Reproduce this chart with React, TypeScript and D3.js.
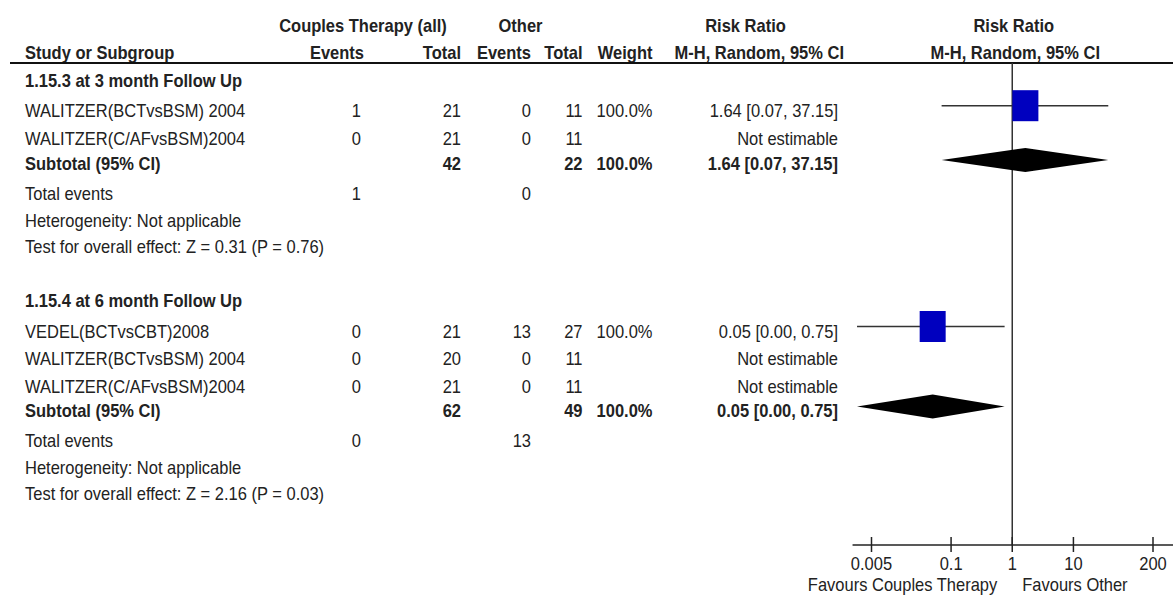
import React from "react";
import * as d3 from "d3";

// ---------- data ----------
const groupNames = ["1.15.3 at 3 month Follow Up", "1.15.4 at 6 month Follow Up"];
const studyNames = [
  "WALITZER(BCTvsBSM) 2004",
  "WALITZER(C/AFvsBSM)2004",
  "VEDEL(BCTvsCBT)2008",
  "WALITZER(BCTvsBSM) 2004",
  "WALITZER(C/AFvsBSM)2004",
];
const studyGroup = [0, 0, 1, 1, 1];
const ctEvents = [1, 0, 0, 0, 0];
const ctTotals = [21, 21, 21, 20, 21];
const otherEvents = [0, 0, 13, 0, 0];
const otherTotals = [11, 11, 27, 11, 11];
const studyWeights = [100, null, 100, null, null];
const studyRR = [1.64, null, 0.05, null, null];
const studyLo = [0.07, null, 0.0029, null, null];
const studyHi = [37.15, null, 0.75, null, null];
const studyCIText = ["1.64 [0.07, 37.15]", "Not estimable", "0.05 [0.00, 0.75]", "Not estimable", "Not estimable"];

const groupCtTotal = [42, 62];
const groupOtherTotal = [22, 49];
const groupCtEvents = [1, 0];
const groupOtherEvents = [0, 13];
const groupWeight = [100, 100];
const groupRR = [1.64, 0.05];
const groupLo = [0.07, 0.0029];
const groupHi = [37.15, 0.75];
const groupCIText = ["1.64 [0.07, 37.15]", "0.05 [0.00, 0.75]"];
const groupHet = ["Heterogeneity: Not applicable", "Heterogeneity: Not applicable"];
const groupTest = [
  "Test for overall effect: Z = 0.31 (P = 0.76)",
  "Test for overall effect: Z = 2.16 (P = 0.03)",
];

const axisTicks = [0.005, 0.1, 1, 10, 200];
const axisTickLabels = ["0.005", "0.1", "1", "10", "200"];
const favoursLeft = "Favours Couples Therapy";
const favoursRight = "Favours Other";

// ---------- layout ----------
const W = 1173;
const H = 597;
const FONT = "'Liberation Sans', Arial, Helvetica, sans-serif";
const FS = 16.5;
const TXT = "#222";

const col = {
  label: 25,
  ctEv: 361,
  ctTot: 461,
  otEv: 531,
  otTot: 582.5,
  weight: 652.5,
  ci: 838,
};

// text baselines
const headerY1 = 31.5;
const headerY2 = 59;
const ruleY = 63;
const groupLayout = [
  { heading: 87, studies: [116.7, 145], subtotal: 170, total: 200, het: 226.7, test: 253 },
  { heading: 306.7, studies: [337.5, 365, 392.7], subtotal: 416.5, total: 447, het: 473.5, test: 499.5 },
];
const axisY = 545;

const x = d3.scaleLog().domain([0.005, 200]).range([871.5, 1153]);
const axisStart = x(0.00245);
const axisEnd = W;
const sqW = d3.scaleSqrt().domain([0, 100]).range([0, 26]);

function T({ x, y, children, anchor = "start", bold = false }: any) {
  return (
    <text
      transform={`translate(${x},${y}) scale(1,1.15)`}
      textAnchor={anchor}
      fontWeight={bold ? "bold" : "normal"}
      fontSize={FS}
      fontFamily={FONT}
      fill={TXT}
    >
      {children}
    </text>
  );
}

export default function App() {
  const rows: any[] = [];
  groupNames.forEach((g, gi) => {
    const L = groupLayout[gi];
    rows.push(<T key={`gh${gi}`} x={col.label} y={L.heading} bold>{g}</T>);
    const idx = studyGroup.map((sg, i) => (sg === gi ? i : -1)).filter((i) => i >= 0);
    idx.forEach((si, k) => {
      const y = L.studies[k];
      const cy = y - 11;
      rows.push(
        <g key={`s${si}`}>
          <T x={col.label} y={y}>{studyNames[si]}</T>
          <T x={col.ctEv} y={y} anchor="end">{ctEvents[si]}</T>
          <T x={col.ctTot} y={y} anchor="end">{ctTotals[si]}</T>
          <T x={col.otEv} y={y} anchor="end">{otherEvents[si]}</T>
          <T x={col.otTot} y={y} anchor="end">{otherTotals[si]}</T>
          {studyWeights[si] != null && (
            <T x={col.weight} y={y} anchor="end">{(studyWeights[si] as number).toFixed(1) + "%"}</T>
          )}
          <T x={col.ci} y={y} anchor="end">{studyCIText[si]}</T>
          {studyRR[si] != null && (
            <g>
              <line x1={x(studyLo[si] as number)} x2={x(studyHi[si] as number)} y1={cy} y2={cy} stroke="#333" strokeWidth={1.5} />
              <rect
                x={x(studyRR[si] as number) - sqW(studyWeights[si] as number) / 2}
                y={cy - (sqW(studyWeights[si] as number) * 31) / 26 / 2}
                width={sqW(studyWeights[si] as number)}
                height={(sqW(studyWeights[si] as number) * 31) / 26}
                fill="#0000BF"
              />
            </g>
          )}
        </g>
      );
    });
    const sy = L.subtotal;
    const dy = sy - 10;
    const dh = 12;
    const pts = [
      [x(groupLo[gi]), dy],
      [x(groupRR[gi]), dy - dh],
      [x(groupHi[gi]), dy],
      [x(groupRR[gi]), dy + dh],
    ];
    rows.push(
      <g key={`sub${gi}`}>
        <T x={col.label} y={sy} bold>Subtotal (95% CI)</T>
        <T x={col.ctTot} y={sy} anchor="end" bold>{groupCtTotal[gi]}</T>
        <T x={col.otTot} y={sy} anchor="end" bold>{groupOtherTotal[gi]}</T>
        <T x={col.weight} y={sy} anchor="end" bold>{groupWeight[gi].toFixed(1) + "%"}</T>
        <T x={col.ci} y={sy} anchor="end" bold>{groupCIText[gi]}</T>
        <polygon points={pts.map((p) => p.join(",")).join(" ")} fill="#000" />
        <T x={col.label} y={L.total}>Total events</T>
        <T x={col.ctEv} y={L.total} anchor="end">{groupCtEvents[gi]}</T>
        <T x={col.otEv} y={L.total} anchor="end">{groupOtherEvents[gi]}</T>
        <T x={col.label} y={L.het}>{groupHet[gi]}</T>
        <T x={col.label} y={L.test}>{groupTest[gi]}</T>
      </g>
    );
  });

  return (
    <svg width={W} height={H} style={{ position: "absolute", left: 0, top: 0, background: "#fff" }}>
      <rect x={0} y={0} width={W} height={H} fill="#fff" />
      {/* headers */}
      <T x={363} y={headerY1} anchor="middle" bold>Couples Therapy (all)</T>
      <T x={520.5} y={headerY1} anchor="middle" bold>Other</T>
      <T x={745.5} y={headerY1} anchor="middle" bold>Risk Ratio</T>
      <T x={x(1) + 1.5} y={headerY1} anchor="middle" bold>Risk Ratio</T>
      <T x={col.label} y={headerY2} bold>Study or Subgroup</T>
      <T x={364} y={headerY2} anchor="end" bold>Events</T>
      <T x={col.ctTot} y={headerY2} anchor="end" bold>Total</T>
      <T x={col.otEv} y={headerY2} anchor="end" bold>Events</T>
      <T x={col.otTot} y={headerY2} anchor="end" bold>Total</T>
      <T x={col.weight} y={headerY2} anchor="end" bold>Weight</T>
      <T x={844} y={headerY2} anchor="end" bold>M-H, Random, 95% CI</T>
      <T x={x(1) + 3} y={headerY2} anchor="middle" bold>M-H, Random, 95% CI</T>
      <line x1={10} x2={W} y1={ruleY} y2={ruleY} stroke="#111" strokeWidth={2} />

      {/* null line */}
      <line x1={x(1)} x2={x(1)} y1={ruleY} y2={axisY} stroke="#333" strokeWidth={1.5} />

      {rows}

      {/* axis */}
      <line x1={axisStart} x2={axisEnd} y1={axisY} y2={axisY} stroke="#222" strokeWidth={1.5} />
      {axisTicks.map((t, i) => (
        <g key={`t${i}`}>
          <line x1={x(t)} x2={x(t)} y1={axisY - 8} y2={axisY + 7} stroke="#222" strokeWidth={1.5} />
          <T x={x(t)} y={570} anchor="middle">{axisTickLabels[i]}</T>
        </g>
      ))}
      <T x={x(1) - 15} y={591} anchor="end">{favoursLeft}</T>
      <T x={x(1) + 10} y={591} anchor="start">{favoursRight}</T>
    </svg>
  );
}
